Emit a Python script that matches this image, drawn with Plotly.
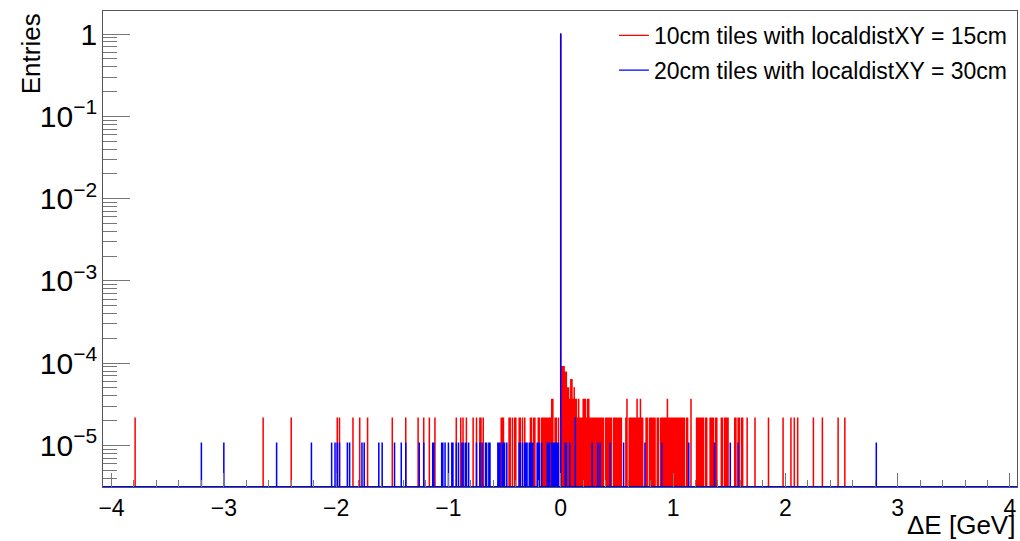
import numpy as np
import plotly.graph_objects as go

# ---------------- data ----------------
bin_width = 0.002
hist_lo, hist_hi = -4.075, 4.075

series_names = ["10cm tiles with localdistXY = 15cm", "20cm tiles with localdistXY = 30cm"]

# red histogram: bin centres grouped by bin content
red_levels = [2.15e-5, 3.64e-5, 5.0e-5, 6.3e-5, 7.8e-5, 9.06e-5, 0.998]
red_bins_l1 = [-3.79, -2.65, -2.40, -1.99, -1.97, -1.85, -1.79, -1.72, -1.50, -1.38, -1.27, -1.22,
               -1.17, -1.12, -0.93, -0.89, -0.87, -0.84, -0.78, -0.75, -0.72, -0.71, -0.69, -0.53,
               -0.52, -0.51, -0.46, -0.45, -0.43, -0.41, -0.40, -0.37, -0.36, -0.34, -0.32, -0.27,
               -0.26, -0.24, -0.23, -0.20, -0.19, -0.17, -0.16, -0.15, -0.14, -0.13, -0.12, -0.11,
               -0.10, -0.09, -0.05, -0.04, -0.02,
               0.15, 0.17, 0.18, 0.19, 0.23, 0.26, 0.27, 0.28, 0.29, 0.30, 0.31, 0.32, 0.33, 0.34,
               0.35, 0.36, 0.37, 0.38, 0.40, 0.41, 0.42, 0.43, 0.44, 0.45, 0.47, 0.48, 0.49, 0.50,
               0.51, 0.52, 0.53, 0.54, 0.58, 0.61, 0.62, 0.63, 0.64, 0.65, 0.66, 0.67, 0.69, 0.70,
               0.72, 0.73, 0.76, 0.77, 0.79, 0.80, 0.81, 0.82, 0.83, 0.84, 0.86, 0.87, 0.89, 0.90,
               0.91, 0.92, 0.93, 0.94, 0.96, 0.97, 0.98, 0.99, 1.00, 1.01, 1.02, 1.03, 1.04, 1.05,
               1.06, 1.07, 1.08, 1.09, 1.10, 1.12, 1.13, 1.21, 1.22, 1.23, 1.24, 1.25, 1.26, 1.27,
               1.29, 1.30, 1.33, 1.34, 1.35, 1.36, 1.38, 1.39, 1.43, 1.44, 1.46, 1.47, 1.48, 1.49,
               1.55, 1.56, 1.58, 1.59, 1.61, 1.62, 1.66, 1.73, 1.85, 1.98, 2.05, 2.08, 2.11, 2.25,
               2.33, 2.47, 2.53]
red_bins_l2 = [-0.08, -0.07, 0.08, 0.11, 0.13, 0.14, 0.16, 0.20, 0.21, 0.22, 0.24, 0.25,
               0.59, 0.68, 0.71, 0.95, 1.16]
red_bins_l3 = [0.06, 0.07, 0.12]
red_bins_l4 = [0.09, 0.10]
red_bins_l5 = [0.04, 0.05]
red_bins_l6 = [0.01, 0.02, 0.03]
red_bins_peak = [0.00]

# blue histogram
blue_levels = [1.07e-5, 2.15e-5, 0.999]
blue_bins_l1 = [-3.20, -3.00, -2.53, -2.22, -2.04, -2.01, -1.99, -1.97, -1.90, -1.88, -1.77, -1.75,
                -1.62, -1.59, -1.48, -1.42, -1.38, -1.26, -1.22, -1.14, -1.13, -1.06, -1.05, -1.03,
                -1.00, -0.97, -0.96, -0.93, -0.91, -0.88, -0.87, -0.85, -0.84, -0.82, -0.75, -0.72,
                -0.70, -0.67, -0.66, -0.64, -0.63, -0.56, -0.55, -0.54, -0.52, -0.51, -0.50, -0.48,
                -0.37, -0.36, -0.34, -0.32, -0.31, -0.30, -0.28, -0.27, -0.26, -0.25, -0.21, -0.20,
                -0.19, -0.17, -0.12, -0.11, -0.10, -0.08, -0.07, -0.06, -0.05, -0.04, -0.03, -0.02,
                0.04, 0.05, 0.08, 0.28, 0.33, 0.35, 0.44, 0.56, 0.75, 0.90, 1.14, 1.37, 1.51, 1.58,
                2.81]
blue_bins_l2 = [0.13]
blue_bins_peak = [0.00]

x_tick_vals = [-4, -3, -2, -1, 0, 1, 2, 3, 4]

# ---------------- build step outlines ----------------
n_bins = int(round((hist_hi - hist_lo) / bin_width))
edges = hist_lo + bin_width * np.arange(n_bins + 1)
y_floor = 10 ** -5.5  # empty bins drawn along the frame bottom (log scale)


def build(groups):
    content = np.full(n_bins, y_floor)
    for level, centres in groups:
        idx = np.floor((np.asarray(centres) - hist_lo) / bin_width + 1e-6).astype(int)
        content[idx] = level
    return edges, np.append(content, content[-1])


rx, ry = build(zip(red_levels, [red_bins_l1, red_bins_l2, red_bins_l3, red_bins_l4,
                                red_bins_l5, red_bins_l6, red_bins_peak]))
bx, by = build(zip(blue_levels, [blue_bins_l1, blue_bins_l2, blue_bins_peak]))

font_family = "Liberation Sans, Arial, Helvetica, sans-serif"

fig = go.Figure()
fig.add_trace(go.Scatter(x=rx, y=ry, mode="lines", line=dict(color="#ff0000", width=1.3, shape="hv"),
                         name=series_names[0], legendgroup="a"))
fig.add_trace(go.Scatter(x=bx, y=by, mode="lines", line=dict(color="#0000ff", width=1.3, shape="hv"),
                         name=series_names[1], legendgroup="b"))

fig.update_layout(
    width=1020, height=541, autosize=False,
    margin=dict(l=103, r=3, t=11, b=54),
    paper_bgcolor="white", plot_bgcolor="white",
    font=dict(family=font_family, color="black"),
    showlegend=True,
    legend=dict(x=0.559, y=0.994, xanchor="left", yanchor="top",
                bgcolor="rgba(0,0,0,0)", font=dict(size=23, family=font_family),
                tracegroupgap=2, traceorder="grouped"),
    xaxis=dict(range=[-4.076, 4.063], showline=True, mirror=True, linecolor="#555", linewidth=1,
               ticks="inside", ticklen=14, tickcolor="#777", tickwidth=1,
               tickvals=x_tick_vals, showgrid=False, zeroline=False,
               minor=dict(dtick=0.2, tick0=0, ticks="inside", ticklen=7, tickcolor="#777", showgrid=False),
               tickfont=dict(size=23, family=font_family)),
    yaxis=dict(type="log", range=[-5.504, 0.2795], showline=True, mirror=True, linecolor="#555",
               linewidth=1, ticks="inside", ticklen=27, tickcolor="#777", tickwidth=1,
               dtick=1, exponentformat="power", showgrid=False, zeroline=False,
               minor=dict(dtick="D1", ticks="inside", ticklen=14, tickcolor="#777", showgrid=False),
               tickfont=dict(size=24, family=font_family)),
)

fig.add_annotation(text="Entries", xref="paper", yref="paper", x=-0.079, y=1.0,
                   xanchor="center", yanchor="top", textangle=-90, showarrow=False,
                   font=dict(size=26, family=font_family))
fig.add_annotation(text="ΔE [GeV]", xref="paper", yref="paper", x=1.0, y=-0.08,
                   xanchor="right", yanchor="middle", showarrow=False,
                   font=dict(size=26, family=font_family))

fig.write_html("out.html")
